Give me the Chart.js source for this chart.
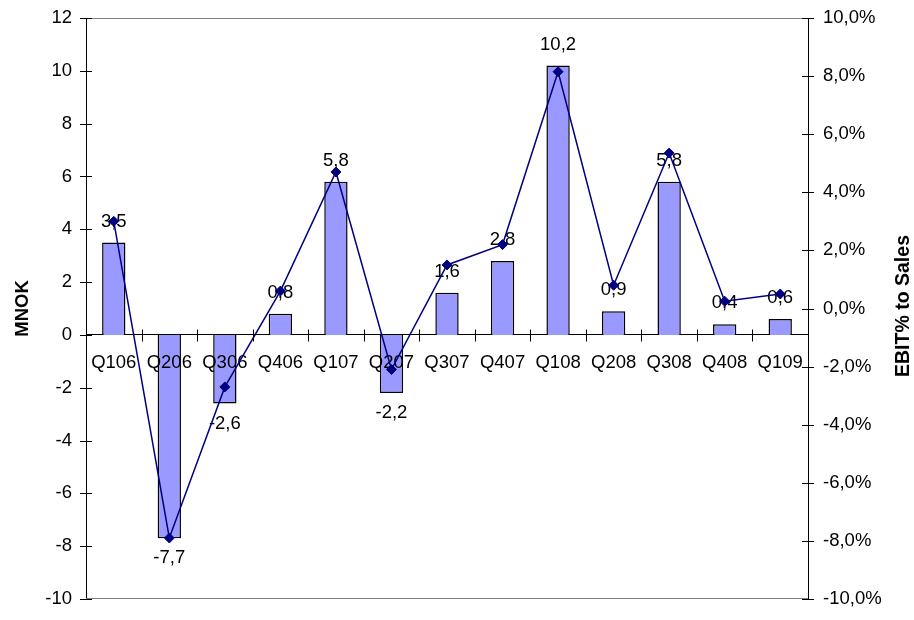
<!DOCTYPE html>
<html>
<head>
<meta charset="utf-8">
<title>EBIT per kvartal</title>
<script src="https://cdn.jsdelivr.net/npm/chart.js@4.4.1/dist/chart.umd.min.js"></script>
<style>
  html, body { margin: 0; padding: 0; background: #fff; }
  #wrap { width: 914px; height: 620px; }
</style>
</head>
<body>
<div id="wrap"><canvas id="ebitChart" width="914" height="620"></canvas></div>
<script>
// quarters on the category axis
const quarters = ['Q106', 'Q206', 'Q306', 'Q406', 'Q107', 'Q207', 'Q307', 'Q407', 'Q108', 'Q208', 'Q308', 'Q408', 'Q109'];
// EBIT in MNOK (bars, left axis)
const ebitMnok = [3.5, -7.7, -2.6, 0.8, 5.8, -2.2, 1.6, 2.8, 10.2, 0.9, 5.8, 0.4, 0.6];
// EBIT% to sales (line, right axis)
const ebitPct = [3.0, -7.9, -2.7, 0.6, 4.7, -2.1, 1.5, 2.2, 8.15, 0.8, 5.35, 0.25, 0.5];
// axis ranges: min, max, step
const mnokTicks = [-10, 12, 2];
const pctTicks = [-10, 10, 2];

const FONT = 'Liberation Sans, Arial, sans-serif';
const TICK_SIZE = 18.5;
const comma = v => v.toFixed(1).replace('.', ',');

// fixed axis widths, and no extra room for label overhang
const fitWidth = w => scale => {
  scale.width = w;
  scale.paddingTop = 0;
  scale.paddingBottom = 0;
};

// crossing tick marks, frame lines and the two rotated axis titles
const axisDecor = {
  id: 'axisDecor',
  afterDraw(chart) {
    const { ctx, chartArea: a, scales } = chart;
    ctx.save();
    ctx.strokeStyle = '#808080';
    ctx.lineWidth = 1;
    ctx.beginPath();
    ctx.moveTo(a.left, a.top + 0.5); ctx.lineTo(a.right, a.top + 0.5);
    ctx.moveTo(a.left, a.bottom - 0.5); ctx.lineTo(a.right, a.bottom - 0.5);
    ctx.stroke();

    ctx.strokeStyle = '#000';
    ctx.beginPath();
    scales.y.ticks.forEach(t => {
      const y = Math.round(scales.y.getPixelForValue(t.value)) + 0.5;
      ctx.moveTo(a.left - 6, y); ctx.lineTo(a.left + 6, y);
    });
    scales.y1.ticks.forEach(t => {
      const y = Math.round(scales.y1.getPixelForValue(t.value)) + 0.5;
      ctx.moveTo(a.right - 6, y); ctx.lineTo(a.right + 6, y);
    });
    const y0 = Math.round(scales.y.getPixelForValue(0)) + 0.5;
    const step = (a.right - a.left) / quarters.length;
    for (let i = 1; i < quarters.length; i++) {
      const x = Math.round(a.left + i * step) + 0.5;
      ctx.moveTo(x, y0 - 6); ctx.lineTo(x, y0 + 6);
    }
    ctx.stroke();

    ctx.fillStyle = '#000';
    ctx.textAlign = 'center';
    ctx.textBaseline = 'middle';
    ctx.font = 'bold 18.5px ' + FONT;
    ctx.translate(23, (a.top + a.bottom) / 2);
    ctx.rotate(-Math.PI / 2);
    ctx.fillText('MNOK', 0, 0);
    ctx.setTransform(1, 0, 0, 1, 0, 0);
    ctx.font = 'bold 19.5px ' + FONT;
    ctx.translate(904, 306);
    ctx.rotate(-Math.PI / 2);
    ctx.fillText('EBIT% to Sales', 0, 0);
    ctx.restore();
  }
};

// bar values outside the bar ends plus the quarter names, drawn above the bars but under the line
const barLabels = {
  id: 'barLabels',
  afterDatasetDraw(chart, args) {
    if (args.meta.type !== 'bar') return;
    const { ctx, scales } = chart;
    ctx.save();
    ctx.fillStyle = '#000';
    ctx.font = TICK_SIZE + 'px ' + FONT;
    ctx.textAlign = 'center';
    ctx.textBaseline = 'middle';
    args.meta.data.forEach((bar, i) => {
      const v = ebitMnok[i];
      const y = v >= 0 ? bar.y - 21 : bar.y + 20;
      ctx.fillText(comma(v), bar.x, y);
    });
    const yAxis = scales.y.getPixelForValue(0);
    ctx.textBaseline = 'top';
    quarters.forEach((q, i) => {
      ctx.fillText(q, scales.x.getPixelForValue(i), yAxis + 19);
    });
    ctx.restore();
  }
};

new Chart(document.getElementById('ebitChart'), {
  data: {
    labels: quarters,
    datasets: [
      {
        type: 'line',
        label: 'EBIT% to Sales',
        data: ebitPct,
        yAxisID: 'y1',
        order: 0,
        borderColor: '#000080',
        borderWidth: 1.5,
        backgroundColor: '#000080',
        pointStyle: 'rectRot',
        pointRadius: 5,
        pointBorderWidth: 1,
        tension: 0
      },
      {
        type: 'bar',
        label: 'EBIT',
        data: ebitMnok,
        yAxisID: 'y',
        order: 1,
        backgroundColor: '#9999FF',
        borderColor: '#000',
        borderWidth: 1.5,
        barPercentage: 0.84,
        categoryPercentage: 0.5
      }
    ]
  },
  options: {
    responsive: false,
    animation: false,
    devicePixelRatio: 1,
    layout: { padding: { top: 18, bottom: 21, left: 0, right: 0 } },
    plugins: { legend: { display: false }, tooltip: { enabled: false } },
    scales: {
      x: {
        position: { y: 0 },
        offset: true,
        grid: { display: false, drawTicks: false },
        border: { display: true, color: '#000', width: 1 },
        ticks: { display: false }
      },
      y: {
        position: 'left',
        min: mnokTicks[0],
        max: mnokTicks[1],
        grid: { display: false, drawTicks: false },
        border: { display: true, color: '#000', width: 1 },
        ticks: { stepSize: mnokTicks[2], color: '#000', font: { family: FONT, size: TICK_SIZE }, padding: 14 },
        afterFit: fitWidth(86)
      },
      y1: {
        position: 'right',
        min: pctTicks[0],
        max: pctTicks[1],
        grid: { display: false, drawTicks: false },
        border: { display: true, color: '#000', width: 1 },
        ticks: {
          stepSize: pctTicks[2],
          color: '#000',
          font: { family: FONT, size: TICK_SIZE },
          padding: 15,
          callback: v => comma(v) + '%'
        },
        afterFit: fitWidth(106)
      }
    }
  },
  plugins: [barLabels, axisDecor]
});
</script>
</body>
</html>
